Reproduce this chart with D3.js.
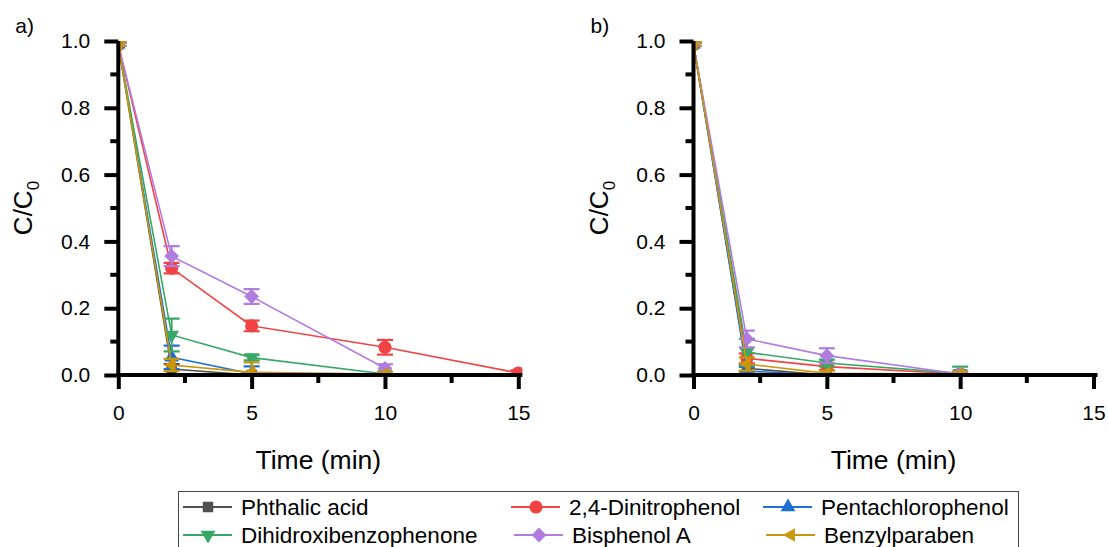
<!DOCTYPE html>
<html>
<head>
<meta charset="utf-8">
<script src="https://cdn.jsdelivr.net/npm/d3@7"></script>
<style>
  html, body { margin: 0; padding: 0; background: #fff; }
  svg text { font-family: "Liberation Sans", Arial, sans-serif; fill: #000; }
</style>
</head>
<body>
<svg id="chart" width="1108" height="547"></svg>
<script>
// Sampling times (min)
const timesMin = [0, 2, 5, 10, 15];

// Series names, in legend order
const seriesNames = ["Phthalic acid", "2,4-Dinitrophenol", "Pentachlorophenol",
                     "Dihidroxibenzophenone", "Bisphenol A", "Benzylparaben"];

// Panel a) C/C0 values and standard deviations (null = not measured)
const phthalicA      = [0.99, 0.018, 0.000, 0.000, null];
const phthalicAErr   = [0.005, 0.015, 0.004, 0.003, null];
const dinitroA       = [0.99, 0.320, 0.147, 0.083, 0.006];
const dinitroAErr    = [0.005, 0.016, 0.016, 0.022, 0.008];
const pentachloroA   = [0.99, 0.053, 0.004, 0.000, null];
const pentachloroAErr= [0.005, 0.035, 0.022, 0.003, null];
const dihidroxiA     = [0.99, 0.120, 0.052, 0.003, null];
const dihidroxiAErr  = [0.005, 0.049, 0.008, 0.006, null];
const bisphenolA_A   = [0.99, 0.356, 0.235, 0.020, null];
const bisphenolA_AErr= [0.005, 0.030, 0.022, 0.012, null];
const benzylA        = [0.99, 0.030, 0.008, 0.003, null];
const benzylAErr     = [0.005, 0.018, 0.030, 0.006, null];

// Panel b) C/C0 values and standard deviations
const phthalicB      = [0.99, 0.020, 0.000, 0.000, null];
const phthalicBErr   = [0.005, 0.010, 0.003, 0.003, null];
const dinitroB       = [0.99, 0.050, 0.025, 0.003, null];
const dinitroBErr    = [0.005, 0.015, 0.010, 0.008, null];
const pentachloroB   = [0.99, 0.012, 0.000, 0.000, null];
const pentachloroBErr= [0.005, 0.012, 0.003, 0.003, null];
const dihidroxiB     = [0.99, 0.068, 0.036, 0.005, null];
const dihidroxiBErr  = [0.005, 0.040, 0.010, 0.020, null];
const bisphenolA_B   = [0.99, 0.108, 0.058, 0.003, null];
const bisphenolA_BErr= [0.005, 0.025, 0.022, 0.008, null];
const benzylB        = [0.99, 0.033, 0.005, 0.003, null];
const benzylBErr     = [0.005, 0.020, 0.008, 0.005, null];

// Axis ticks
const xTicks = [0, 5, 10, 15];
const yTicks = [0.0, 0.2, 0.4, 0.6, 0.8, 1.0];
const panelLabels = ["a)", "b)"];

// Styling
const colors = ["#505050", "#f04343", "#1f6fd6", "#37a865", "#b27be0", "#c9960c"];
const symbols = [
  { type: d3.symbolSquare,   size: 110, rot: 0 },
  { type: d3.symbolCircle,   size: 135, rot: 0 },
  { type: d3.symbolTriangle, size: 95,  rot: 0 },
  { type: d3.symbolTriangle, size: 95,  rot: 180 },
  { type: d3.symbolSquare,   size: 110, rot: 45 },
  { type: d3.symbolTriangle, size: 80,  rot: -90 }
];

const panels = [
  { left: 118.3, values: [phthalicA, dinitroA, pentachloroA, dihidroxiA, bisphenolA_A, benzylA],
    errors: [phthalicAErr, dinitroAErr, pentachloroAErr, dihidroxiAErr, bisphenolA_AErr, benzylAErr] },
  { left: 693.5, values: [phthalicB, dinitroB, pentachloroB, dihidroxiB, bisphenolA_B, benzylB],
    errors: [phthalicBErr, dinitroBErr, pentachloroBErr, dihidroxiBErr, bisphenolA_BErr, benzylBErr] }
];

const svg = d3.select("#chart");
const plotTop = 41, plotBottom = 375;
const unit = (518.3 - 118.3) / 15;

panels.forEach((p, pi) => {
  const x = d3.scaleLinear().domain([0, 15.15]).range([p.left, p.left + 15.15 * unit]);
  const y = d3.scaleLinear().domain([0, 1]).range([plotBottom, plotTop]);
  const g = svg.append("g");

  const clipId = "clip" + pi;
  svg.append("clipPath").attr("id", clipId)
    .append("rect")
    .attr("x", x(0)).attr("y", y(1))
    .attr("width", x(15.15) - x(0)).attr("height", y(0) - y(1));

  const plot = g.append("g").attr("clip-path", `url(#${clipId})`);

  p.values.forEach((vals, si) => {
    const pts = timesMin.map((t, i) => ({ t, v: vals[i], e: p.errors[si][i] }))
      .filter(d => d.v !== null);
    const sg = plot.append("g");
    sg.append("path")
      .datum(pts)
      .attr("fill", "none")
      .attr("stroke", colors[si])
      .attr("stroke-width", 1.6)
      .attr("d", d3.line().x(d => x(d.t)).y(d => y(d.v)));

    // error bars
    const eb = sg.selectAll(".eb").data(pts).enter().append("g");
    eb.append("line")
      .attr("x1", d => x(d.t)).attr("x2", d => x(d.t))
      .attr("y1", d => y(d.v - d.e)).attr("y2", d => y(d.v + d.e))
      .attr("stroke", colors[si]).attr("stroke-width", 2);
    [-1, 1].forEach(s => {
      eb.append("line")
        .attr("x1", d => x(d.t) - 8).attr("x2", d => x(d.t) + 8)
        .attr("y1", d => y(d.v + s * d.e)).attr("y2", d => y(d.v + s * d.e))
        .attr("stroke", colors[si]).attr("stroke-width", 2.2);
    });

    const sym = symbols[si];
    sg.selectAll(".mk").data(pts).enter().append("path")
      .attr("d", d3.symbol().type(sym.type).size(sym.size))
      .attr("transform", d => `translate(${x(d.t)},${y(d.v)}) rotate(${sym.rot})`)
      .attr("fill", colors[si]);
  });

  // axes
  const xAxis = d3.axisBottom(x).tickValues(xTicks).tickFormat(d3.format("d")).tickSize(14).tickSizeOuter(0).tickPadding(16);
  const gx = g.append("g").attr("transform", `translate(0,${plotBottom})`).call(xAxis);
  const yAxis = d3.axisLeft(y).tickValues(yTicks).tickFormat(d3.format(".1f")).tickSize(14).tickSizeOuter(0).tickPadding(14);
  const gy = g.append("g").attr("transform", `translate(${x(0)},0)`).call(yAxis);

  // minor ticks
  const minorX = [2.5, 7.5, 12.5];
  const minorY = [0.1, 0.3, 0.5, 0.7, 0.9];
  g.append("g").selectAll("line").data(minorX).enter().append("line")
    .attr("x1", d => x(d)).attr("x2", d => x(d))
    .attr("y1", plotBottom).attr("y2", plotBottom + 8)
    .attr("stroke", "#000").attr("stroke-width", 4);
  g.append("g").selectAll("line").data(minorY).enter().append("line")
    .attr("x1", x(0) - 8).attr("x2", x(0))
    .attr("y1", d => y(d)).attr("y2", d => y(d))
    .attr("stroke", "#000").attr("stroke-width", 4);

  [gx, gy].forEach(a => {
    a.select(".domain").attr("stroke", "#000").attr("stroke-width", 4);
    a.selectAll(".tick line").attr("stroke", "#000").attr("stroke-width", 4);
    a.selectAll(".tick text").attr("font-size", 21).attr("font-family", "Liberation Sans, Arial, sans-serif");
  });
  gx.select(".domain").attr("d", `M${x(0) - 2},0H${x(15.15)}`);
  gy.select(".domain").attr("d", `M0,${y(1)}V${y(0) + 2}`);

  // axis titles
  g.append("text")
    .attr("x", x(7.5)).attr("y", 469)
    .attr("text-anchor", "middle").attr("font-size", 26.5)
    .text("Time (min)");

  const yl = g.append("text")
    .attr("transform", `translate(${x(0) - 86},${(plotTop + plotBottom) / 2}) rotate(-90)`)
    .attr("text-anchor", "middle").attr("font-size", 26);
  yl.append("tspan").text("C/C");
  yl.append("tspan").attr("font-size", 17).attr("dy", 7).text("0");

  g.append("text")
    .attr("x", x(0) - 103).attr("y", 33)
    .attr("font-size", 21)
    .text(panelLabels[pi]);
});

// legend: two rows of three entries
const legend = svg.append("g");
legend.append("rect")
  .attr("x", 178.5).attr("y", 491.5).attr("width", 840).attr("height", 70)
  .attr("fill", "none").attr("stroke", "#444").attr("stroke-width", 1);

const colX = [183, 511, 763];
const rowY = [507, 535];
seriesNames.forEach((name, i) => {
  const cx = colX[i % 3] + (i >= 3 && i % 3 > 0 ? 3 : 0), cy = rowY[Math.floor(i / 3)];
  const it = legend.append("g");
  it.append("line").attr("x1", cx).attr("x2", cx + 49).attr("y1", cy).attr("y2", cy)
    .attr("stroke", colors[i]).attr("stroke-width", 1.8);
  const sym = symbols[i];
  it.append("path")
    .attr("d", d3.symbol().type(sym.type).size(sym.size))
    .attr("transform", `translate(${cx + 25},${cy}) rotate(${sym.rot})`)
    .attr("fill", colors[i]);
  it.append("text").attr("x", cx + 58).attr("y", cy + 8)
    .attr("font-size", 22.5).text(name);
});
</script>
</body>
</html>
